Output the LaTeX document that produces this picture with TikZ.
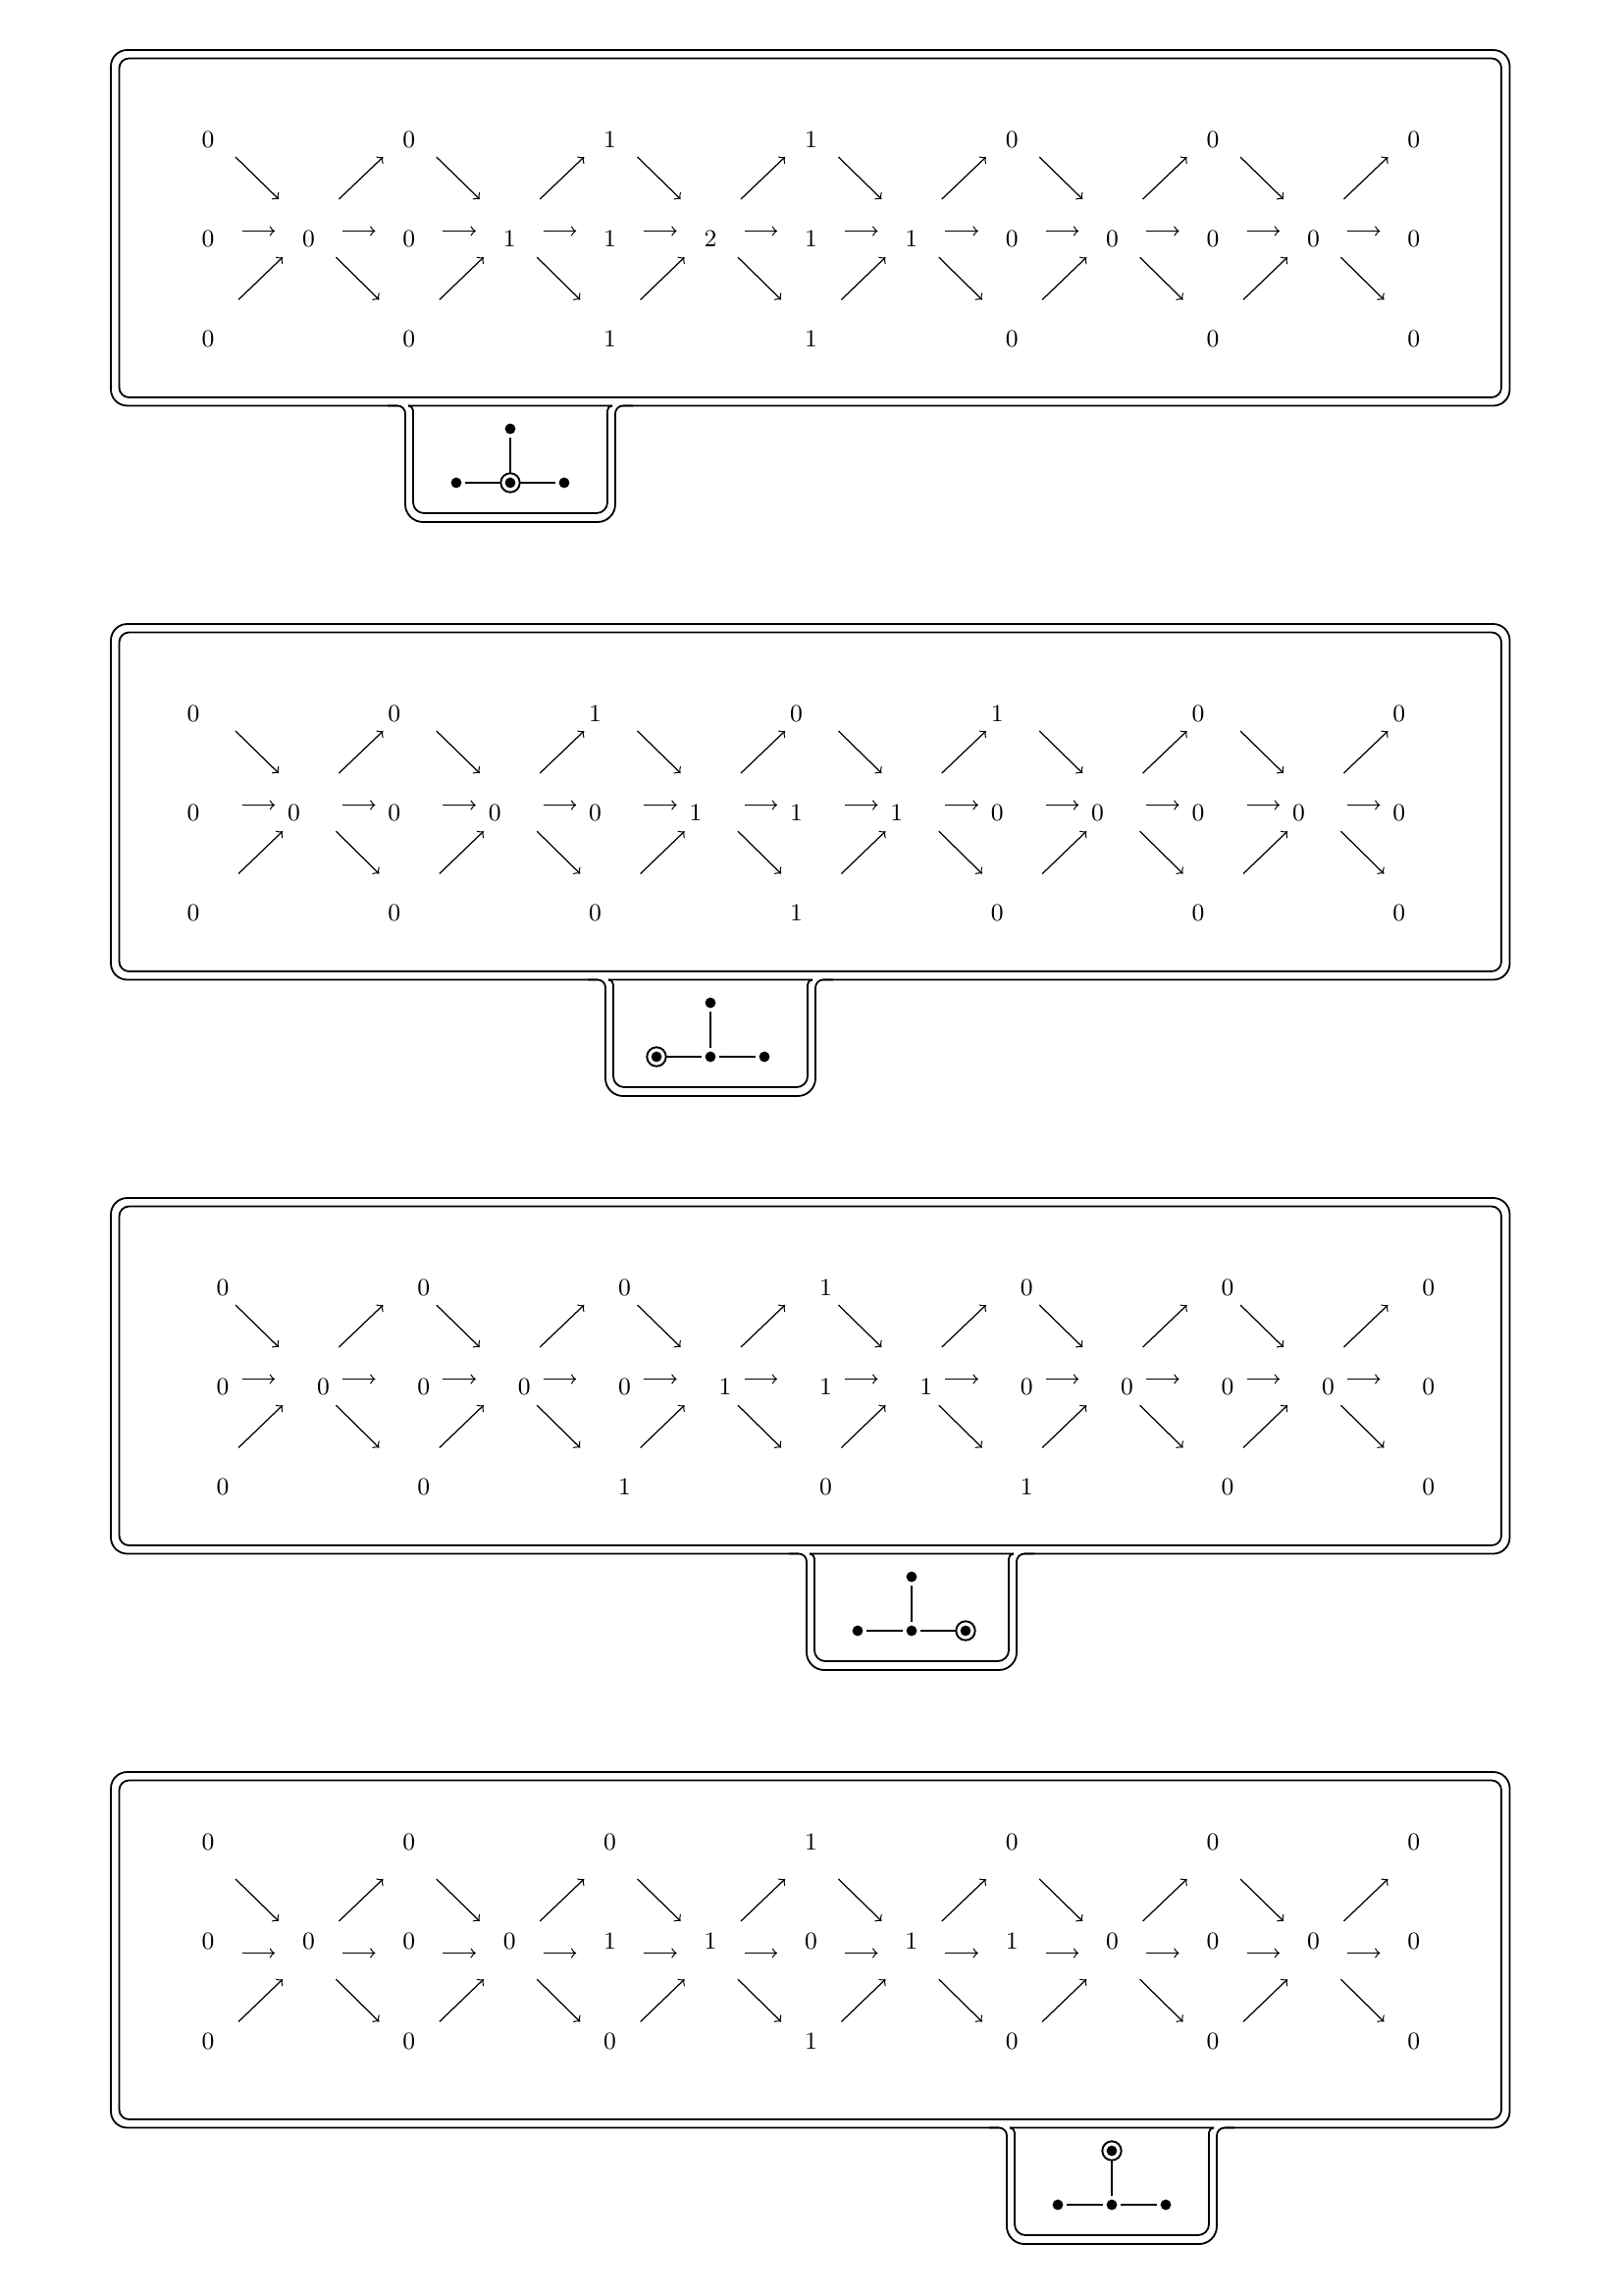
\documentclass[tikz,border=0pt]{standalone}
\usetikzlibrary{calc}
\begin{document}
\begin{tikzpicture}[x=0.0127cm,y=-0.0127cm]
        % Styles
        \tikzstyle{frame}=[line width=0.65pt]
        \tikzstyle{quiver arrow}=[->,line width=0.45pt]
        \tikzstyle{dim}=[inner sep=0pt,font=\fontsize{9}{11}\selectfont]
        \tikzstyle{dynkin dot}=[circle,fill,inner sep=0pt,minimum size=3.9pt,outer sep=1.3pt]
        \tikzstyle{dynkin ring}=[circle,draw,line width=0.7pt,inner sep=0pt,minimum size=7pt]
        \tikzstyle{dynkin edge}=[line width=0.4pt]
        \useasboundingbox (0,0) rectangle (1654,2339);
        %The graphic
        \foreach \k/\Y/\tx/\mark in {1/51/520/c,2/636/724/l,3/1221/929/r,4/1806/1133/t}
        {
            %frame
            \draw[frame,rounded corners=6pt] (113,\Y) rectangle (1538.5,\Y+362.5);
            \draw[frame,rounded corners=3.6pt] (121.5,\Y+8.5) rectangle (1530,\Y+354);
            %tab
            \fill[white] (\tx-115,\Y+359) rectangle (\tx-104,\Y+366);
            \fill[white] (\tx+104,\Y+359) rectangle (\tx+115,\Y+366);
            \draw[frame,rounded corners=2.9pt] (\tx-125,\Y+362.5) -- (\tx-107,\Y+362.5) -- (\tx-107,\Y+420);
            \draw[frame,rounded corners=6.5pt] (\tx-107,\Y+420) -- (\tx-107,\Y+481) -- (\tx+107,\Y+481) -- (\tx+107,\Y+420);
            \draw[frame,rounded corners=2.9pt] (\tx+107,\Y+420) -- (\tx+107,\Y+362.5) -- (\tx+125,\Y+362.5);
            \draw[frame,rounded corners=1.8pt] (\tx-104,\Y+362.5) -- (\tx-99,\Y+362.5) -- (\tx-99,\Y+420);
            \draw[frame,rounded corners=4pt] (\tx-99,\Y+420) -- (\tx-99,\Y+472) -- (\tx+99,\Y+472) -- (\tx+99,\Y+420);
            \draw[frame,rounded corners=1.8pt] (\tx+99,\Y+420) -- (\tx+99,\Y+362.5) -- (\tx+104,\Y+362.5);
            %dynkin diagram
            \node[dynkin dot] (d\k-t) at (\tx,\Y+386) {};
            \node[dynkin dot] (d\k-l) at (\tx-55,\Y+441) {};
            \node[dynkin dot] (d\k-c) at (\tx,\Y+441) {};
            \node[dynkin dot] (d\k-r) at (\tx+55,\Y+441) {};
            \node[dynkin ring] (ring\k) at (d\k-\mark) {};
            \draw[dynkin edge] (d\k-l) -- (d\k-c);
            \draw[dynkin edge] (d\k-c) -- (d\k-r);
            \draw[dynkin edge] (d\k-t) -- (d\k-c);
            %grid
            \foreach \c in {0,...,12}
                \foreach \r in {0,1,2}
                    \coordinate (g\k-\c-\r) at (212+102.4*\c,\Y+91+101.5*\r);
            %arrows
            \foreach \c in {0,2,...,10}
            {
                \draw[quiver arrow] ($(g\k-\c-0)+(28,18)$) -- ($(g\k-\c-0)+(72,61)$);
                \draw[quiver arrow] ($(g\k-\c-1)+(34.5,-8)$) -- ($(g\k-\c-1)+(68,-8)$);
                \draw[quiver arrow] ($(g\k-\c-2)+(31,-39.5)$) -- ($(g\k-\c-2)+(76,-82.8)$);
            }
            \foreach \c in {1,3,...,11}
            {
                \draw[quiver arrow] ($(g\k-\c-1)+(31,-40.5)$) -- ($(g\k-\c-1)+(76,-83.5)$);
                \draw[quiver arrow] ($(g\k-\c-1)+(34.5,-8)$) -- ($(g\k-\c-1)+(68,-8)$);
                \draw[quiver arrow] ($(g\k-\c-1)+(28,18.7)$) -- ($(g\k-\c-1)+(72,62)$);
            }
        }
        %dimension vectors
        \foreach \k/\Y/\dx/\dy/\tops/\mids/\bots in {
            1/51/0/0/{0,0,1,1,0,0,0}/{0,0,0,1,1,2,1,1,0,0,0,0,0}/{0,0,1,1,0,0,0},
            2/636/-15/0/{0,0,1,0,1,0,0}/{0,0,0,0,0,1,1,1,0,0,0,0,0}/{0,0,0,1,0,0,0},
            3/1221/15/0/{0,0,0,1,0,0,0}/{0,0,0,0,0,1,1,1,0,0,0,0,0}/{0,0,1,0,1,0,0},
            4/1806/0/-20/{0,0,0,1,0,0,0}/{0,0,0,0,1,1,0,1,1,0,0,0,0}/{0,0,0,1,0,0,0}}
        {
            \foreach \v [count=\i from 0] in \tops
                \node[dim] (n\k-t\i) at (212+204.8*\i+\dx,\Y+91+\dy) {\v};
            \foreach \v [count=\i from 0] in \mids
                \node[dim] (n\k-m\i) at (212+102.4*\i+\dx,\Y+192.5+\dy) {\v};
            \foreach \v [count=\i from 0] in \bots
                \node[dim] (n\k-b\i) at (212+204.8*\i+\dx,\Y+294+\dy) {\v};
        }
\end{tikzpicture}
\end{document}
